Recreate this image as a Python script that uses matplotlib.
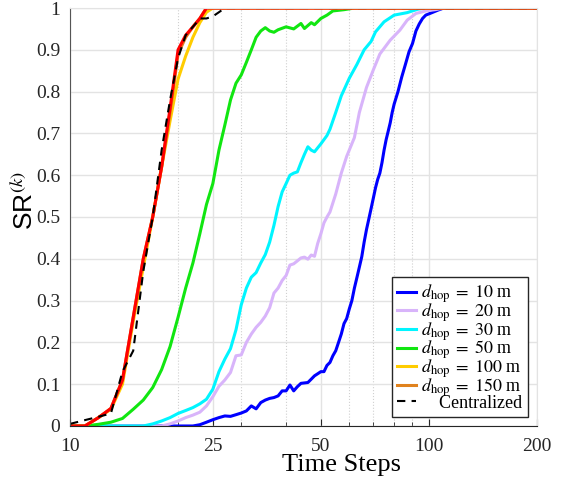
import numpy as np
import matplotlib
matplotlib.use("Agg")
import matplotlib.pyplot as plt
from matplotlib.ticker import FixedLocator, FixedFormatter, LogLocator, NullFormatter

# ---- data (time step -> SR) ----
t_10 = [10, 22, 23, 24, 25, 26, 27, 28, 29, 30, 31, 32, 33, 34, 35, 36, 37, 38, 39, 40,
        41, 42, 43, 44, 45, 46, 47, 48, 49, 50, 51, 52, 53, 54, 55, 56, 57, 58, 59, 60,
        61, 62, 63, 64, 65, 66, 67, 68, 69, 70, 71, 72, 73, 74, 75, 76, 77, 78, 79, 80,
        82, 84, 86, 88, 90, 92, 94, 96, 98, 102, 106, 110, 200]
sr_10 = [0, 0, 0.003, 0.009, 0.015, 0.02, 0.024, 0.023, 0.027, 0.031, 0.036, 0.048, 0.041,
         0.056, 0.062, 0.066, 0.068, 0.072, 0.084, 0.084, 0.098, 0.084, 0.094, 0.102, 0.103,
         0.104, 0.112, 0.12, 0.125, 0.13, 0.13, 0.145, 0.152, 0.168, 0.18, 0.2, 0.22, 0.245,
         0.257, 0.28, 0.3, 0.33, 0.355, 0.38, 0.405, 0.44, 0.47, 0.495, 0.52, 0.545, 0.57,
         0.59, 0.605, 0.63, 0.66, 0.685, 0.705, 0.725, 0.75, 0.77, 0.80, 0.835, 0.865, 0.895,
         0.915, 0.945, 0.962, 0.975, 0.983, 0.989, 0.995, 1.0, 1.0]

t_20 = [10, 18, 19, 20, 21, 22, 23, 24, 25, 26, 27, 28, 29, 30, 31, 32, 33, 34, 35, 36,
        37, 38, 39, 40, 41, 42, 43, 44, 45, 46, 47, 48, 49, 50, 51, 52, 53, 55, 57, 59,
        62, 64, 67, 70, 73, 78, 83, 87, 92, 98, 104, 110, 200]
sr_20 = [0, 0, 0.005, 0.012, 0.02, 0.026, 0.033, 0.048, 0.07, 0.095, 0.11, 0.128, 0.168,
         0.17, 0.2, 0.22, 0.236, 0.248, 0.263, 0.283, 0.318, 0.33, 0.348, 0.36, 0.385, 0.388,
         0.395, 0.402, 0.404, 0.399, 0.409, 0.406, 0.437, 0.46, 0.486, 0.5, 0.512, 0.555,
         0.605, 0.645, 0.69, 0.75, 0.81, 0.852, 0.89, 0.923, 0.947, 0.971, 0.987, 0.993,
         0.996, 1.0, 1.0]

t_30 = [10, 16, 17, 18, 19, 20, 21, 22, 23, 24, 25, 26, 27, 28, 29, 30, 31, 32, 33, 34,
        35, 36, 37, 38, 39, 40, 41, 42, 43, 44, 45, 46, 47, 48, 50, 52, 53, 55, 57, 60,
        63, 66, 69, 71, 75, 80, 87, 93, 97, 200]
sr_30 = [0, 0, 0.005, 0.012, 0.02, 0.03, 0.037, 0.044, 0.053, 0.064, 0.088, 0.13, 0.16,
         0.185, 0.23, 0.29, 0.33, 0.356, 0.367, 0.39, 0.41, 0.44, 0.48, 0.525, 0.56, 0.58,
         0.60, 0.605, 0.608, 0.63, 0.65, 0.668, 0.66, 0.656, 0.675, 0.695, 0.71, 0.75, 0.79,
         0.832, 0.865, 0.90, 0.92, 0.943, 0.967, 0.983, 0.989, 0.997, 1.0, 1.0]

t_50 = [10, 11, 12, 13, 14, 15, 16, 17, 18, 19, 20, 21, 22, 23, 24, 25, 26, 27, 28, 29,
        30, 31, 32, 33, 34, 35, 36, 37, 38, 40, 42, 44, 45, 47, 48, 50, 52, 54, 58, 62, 200]
sr_50 = [0, 0, 0.004, 0.009, 0.018, 0.04, 0.062, 0.092, 0.135, 0.19, 0.26, 0.33, 0.39,
         0.46, 0.53, 0.58, 0.66, 0.72, 0.78, 0.82, 0.84, 0.87, 0.90, 0.93, 0.945, 0.953,
         0.945, 0.942, 0.948, 0.955, 0.95, 0.963, 0.951, 0.965, 0.96, 0.975, 0.983, 0.993,
         0.996, 1.0, 1.0]

t_100 = [10, 11, 12, 13, 14, 15, 16, 17, 18, 19, 20, 21, 22, 23, 24, 25, 200]
sr_100 = [0, 0, 0.02, 0.04, 0.1, 0.25, 0.38, 0.50, 0.62, 0.73, 0.83, 0.885, 0.93, 0.965,
          0.99, 1.0, 1.0]

t_150 = [10, 11, 12, 13, 14, 15, 16, 17, 18, 19, 20, 21, 22, 23, 24, 200]
sr_150 = [0, 0, 0.02, 0.042, 0.11, 0.26, 0.40, 0.50, 0.62, 0.75, 0.89, 0.93, 0.955,
          0.975, 1.0, 1.0]

# unlabelled red curve drawn on top
t_red = [10, 11, 12, 13, 14, 15, 16, 17, 18, 19, 20, 21, 22, 23, 24, 200]
sr_red = [0, 0, 0.02, 0.042, 0.11, 0.26, 0.40, 0.50, 0.62, 0.76, 0.90, 0.935, 0.955,
          0.975, 1.0, 1.0]

t_cen = [10, 11, 12, 13, 14, 15, 16, 17, 18, 19, 20, 21, 22, 23, 24, 25, 26, 27, 200]
sr_cen = [0.005, 0.014, 0.022, 0.03, 0.13, 0.18, 0.37, 0.50, 0.66, 0.78, 0.88, 0.935,
          0.955, 0.975, 0.975, 0.98, 0.99, 1.0, 1.0]

x_ticks = [10, 25, 50, 100, 200]
y_ticks = np.round(np.arange(0, 1.01, 0.1), 1)

plt.rcParams["mathtext.fontset"] = "stix"
plt.rcParams["font.family"] = ["Liberation Serif", "DejaVu Serif"]

fig = plt.figure(figsize=(5.67, 4.86), dpi=100)
ax = fig.add_axes([0.1235, 0.1235, 0.8235, 0.86])

series = [
    (t_10, sr_10, "#0000ff", r"$d_{\mathrm{hop}}\;=\;10$ m"),
    (t_20, sr_20, "#d8b4fa", r"$d_{\mathrm{hop}}\;=\;20$ m"),
    (t_30, sr_30, "#00f5ff", r"$d_{\mathrm{hop}}\;=\;30$ m"),
    (t_50, sr_50, "#11e611", r"$d_{\mathrm{hop}}\;=\;50$ m"),
    (t_100, sr_100, "#ffcc00", r"$d_{\mathrm{hop}}\;=\;100$ m"),
    (t_150, sr_150, "#e0821e", r"$d_{\mathrm{hop}}\;=\;150$ m"),
]
for t, sr, c, lab in series:
    ax.plot(t, sr, color=c, lw=2.2, label=lab)
ax.plot(t_red, sr_red, color="#ff0000", lw=2.2)
ax.plot(t_cen, sr_cen, color="k", ls=(0, (4, 3)), lw=1.5, label="    Centralized")

ax.set_xscale("log")
ax.set_xlim(10, 200)
ax.set_ylim(0, 1)
ax.xaxis.set_major_locator(FixedLocator(x_ticks))
ax.xaxis.set_major_formatter(FixedFormatter([str(v) for v in x_ticks]))
ax.xaxis.set_minor_locator(LogLocator(subs=np.arange(2, 10)))
ax.xaxis.set_minor_formatter(NullFormatter())
ax.set_yticks(y_ticks)
ax.set_yticklabels(["0"] + [f"{v:.1f}" for v in y_ticks[1:-1]] + ["1"])

ax.grid(which="major", color="#e3e3e3", lw=1.0)
ax.grid(which="minor", axis="x", color="#d0d0d0", lw=0.8, ls=":")
ax.set_axisbelow(True)
ax.tick_params(which="both", direction="in", labelsize=14, colors="#262626")
ax.tick_params(which="major", length=5)
ax.tick_params(which="minor", length=3)
ax.tick_params(axis="y", length=0, pad=7)
ax.tick_params(axis="x", pad=9)
for s in ["top", "right"]:
    ax.spines[s].set_color("#e3e3e3")
ax.spines["left"].set_color("#555555")
ax.spines["bottom"].set_color("#262626")

ax.set_xlabel("Time Steps", fontsize=19)
ax.xaxis.set_label_coords(0.582, -0.068)
ax.set_ylabel(r"SR$^{(k)}$", fontsize=19, family=["Liberation Sans", "DejaVu Sans"])
ax.yaxis.set_label_coords(-0.068, 0.54)

leg = ax.legend(loc="lower right", fontsize=13, handlelength=1.05, handletextpad=0.3,
                labelspacing=-0.22, borderpad=0.3, fancybox=False, framealpha=1)
leg.get_frame().set_edgecolor("#262626")
leg.get_frame().set_linewidth(1.0)

fig.savefig("out.png", dpi=100)
